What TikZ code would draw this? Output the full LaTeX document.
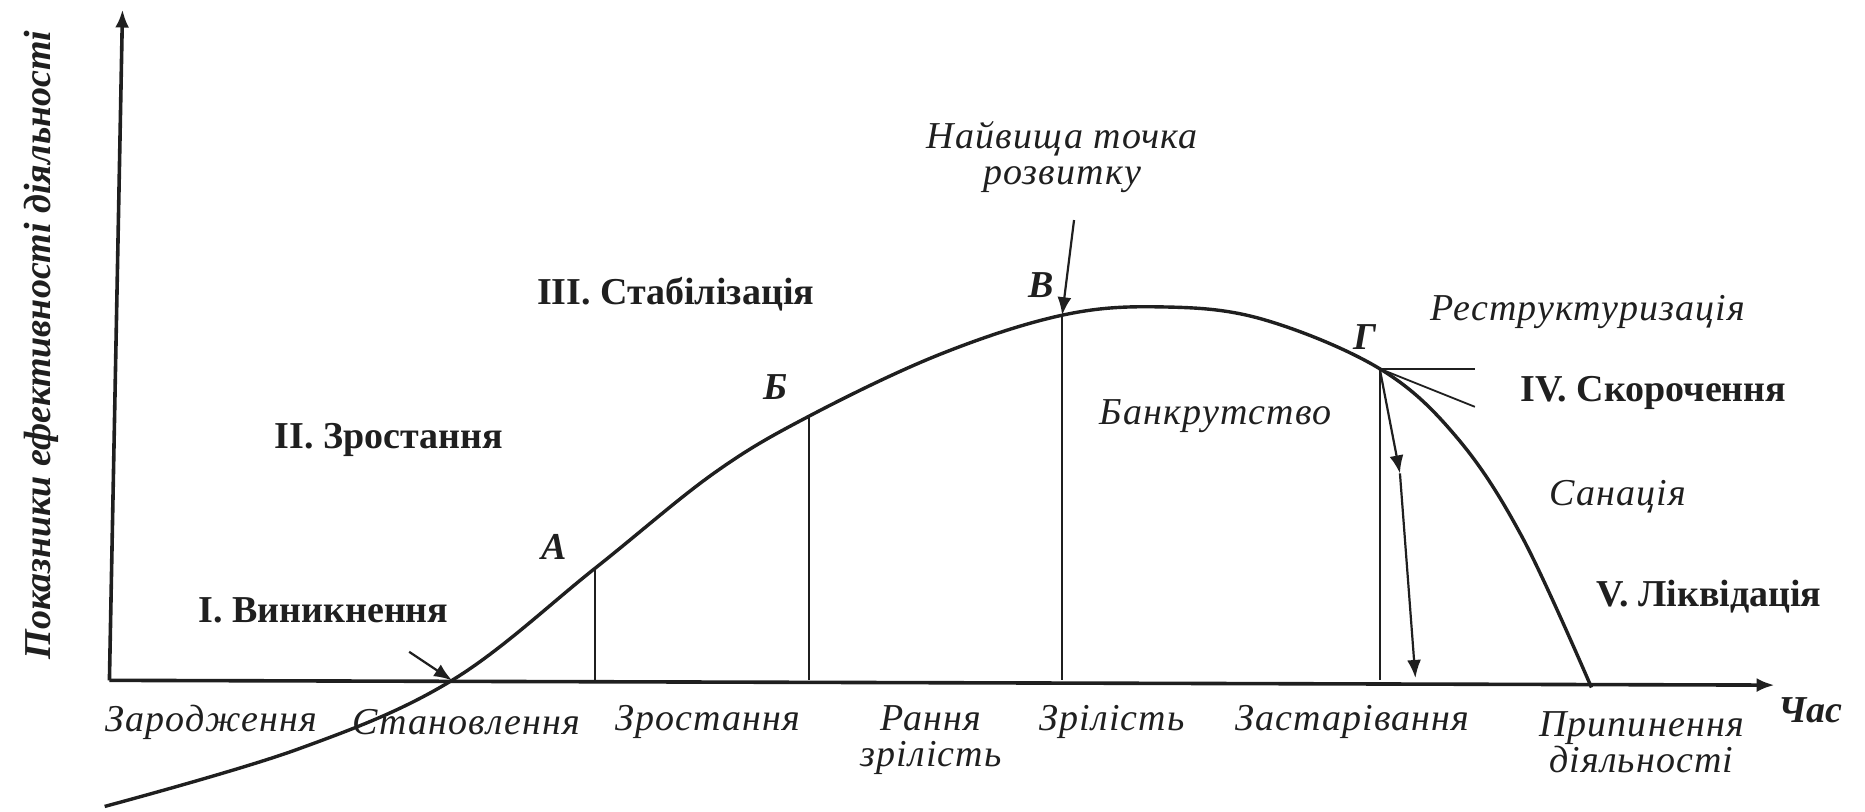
\documentclass[tikz,border=0pt]{standalone}
\usepackage{fontspec}
\setmainfont{Liberation Serif}
\usetikzlibrary{arrows.meta}
\begin{document}
\begin{tikzpicture}[x=0.5947pt,y=-0.5947pt,
  ink/.style={draw=black!88},
  axisline/.style={ink, line width=1.8pt},
  curveline/.style={ink, line width=1.7pt},
  thinline/.style={ink, line width=0.9pt},
  tip/.style={-{Latex[length=9pt,width=7pt]}},
  stage/.style={font=\fontsize{19}{19}\selectfont\bfseries, text=black!88, inner sep=0pt},
  phase/.style={font=\fontsize{19}{18}\selectfont\itshape\addfontfeatures{LetterSpace=3}, text=black!88, align=center, inner sep=0pt},
  point/.style={font=\fontsize{19}{19}\selectfont\bfseries\itshape, text=black!88, inner sep=0pt},
]
\useasboundingbox (0,0) rectangle (1568,682);
% axes
\coordinate (O) at (92,572);
\coordinate (Ytop) at (103,8);
\coordinate (Xend) at (1492,576);
\draw[axisline, tip] (O) -- (Ytop);
\draw[axisline, tip] (O) -- (Xend);
\node[point, rotate=90] (ylab) at (35,290) {Показники ефективності діяльності};
\node[point] (xlab) at (1522,597) {Час};
% curve
\draw[curveline] plot[smooth, tension=0.6] coordinates {
 (88,678) (250,630) (380,572) (500,478) (600,398) (680,350)
 (790,298) (893,265) (975,258) (1060,268) (1160,310) (1225,368)
 (1280,452) (1338,578)};
% points on curve
\coordinate (S) at (380,572);
\coordinate (A) at (500,478);
\coordinate (B) at (680,350);
\coordinate (V) at (893,265);
\coordinate (G) at (1160,310);
\coordinate (Af) at (500,572);
\coordinate (Bf) at (680,572);
\coordinate (Vf) at (893,572);
\coordinate (Gf) at (1160,572);
\draw[thinline] (A) -- (Af);
\draw[thinline] (B) -- (Bf);
\draw[thinline] (V) -- (Vf);
\draw[thinline] (G) -- (Gf);
% arrows
\coordinate (s0) at (344,548);
\draw[thinline, line width=1.1pt, tip] (s0) -- (S);
\coordinate (v0) at (903,185);
\draw[thinline, line width=1.1pt, tip] (v0) -- (V);
\coordinate (gm) at (1177,398);
\coordinate (ge) at (1190,570);
\draw[thinline, line width=1.1pt, tip] (G) -- (gm);
\draw[thinline, line width=1.1pt, tip] (gm) -- (ge);
\coordinate (gh) at (1240,310);
\coordinate (gs) at (1240,342);
\draw[thinline] (G) -- (gh);
\draw[thinline] (G) -- (gs);
% point labels
\node[point] (lA) at (466,460) {А};
\node[point] (lB) at (652,325) {Б};
\node[point] (lV) at (875,240) {В};
\node[point] (lG) at (1148,283) {Г};
% stage labels
\node[stage] (st1) at (272,513) {I. Виникнення};
\node[stage] (st2) at (327,370) {II. Зростання};
\node[stage] (st3) at (568,247) {III. Стабілізація};
\node[stage] (st4) at (1390,330) {IV. Скорочення};
\node[stage] (st5) at (1437,502) {V. Ліквідація};
% italic labels
\node[phase] (top) at (893,132) {Найвища точка\\розвитку};
\node[phase] (bank) at (1022,350) {Банкрутство};
\node[phase] (restr) at (1335,262) {Реструктуризація};
\node[phase] (san) at (1360,418) {Санація};
% bottom labels
\node[phase] (p1) at (178,607) {Зародження};
\node[phase] (p2) at (392,607) {Становлення};
\node[phase] (p3) at (595,607) {Зростання};
\node[phase] (p4) at (783,622) {Рання\\зрілість};
\node[phase] (p5) at (935,607) {Зрілість};
\node[phase] (p6) at (1137,607) {Застарівання};
\node[phase] (p7) at (1380,624) {Припинення\\діяльності};
\end{tikzpicture}
\end{document}
